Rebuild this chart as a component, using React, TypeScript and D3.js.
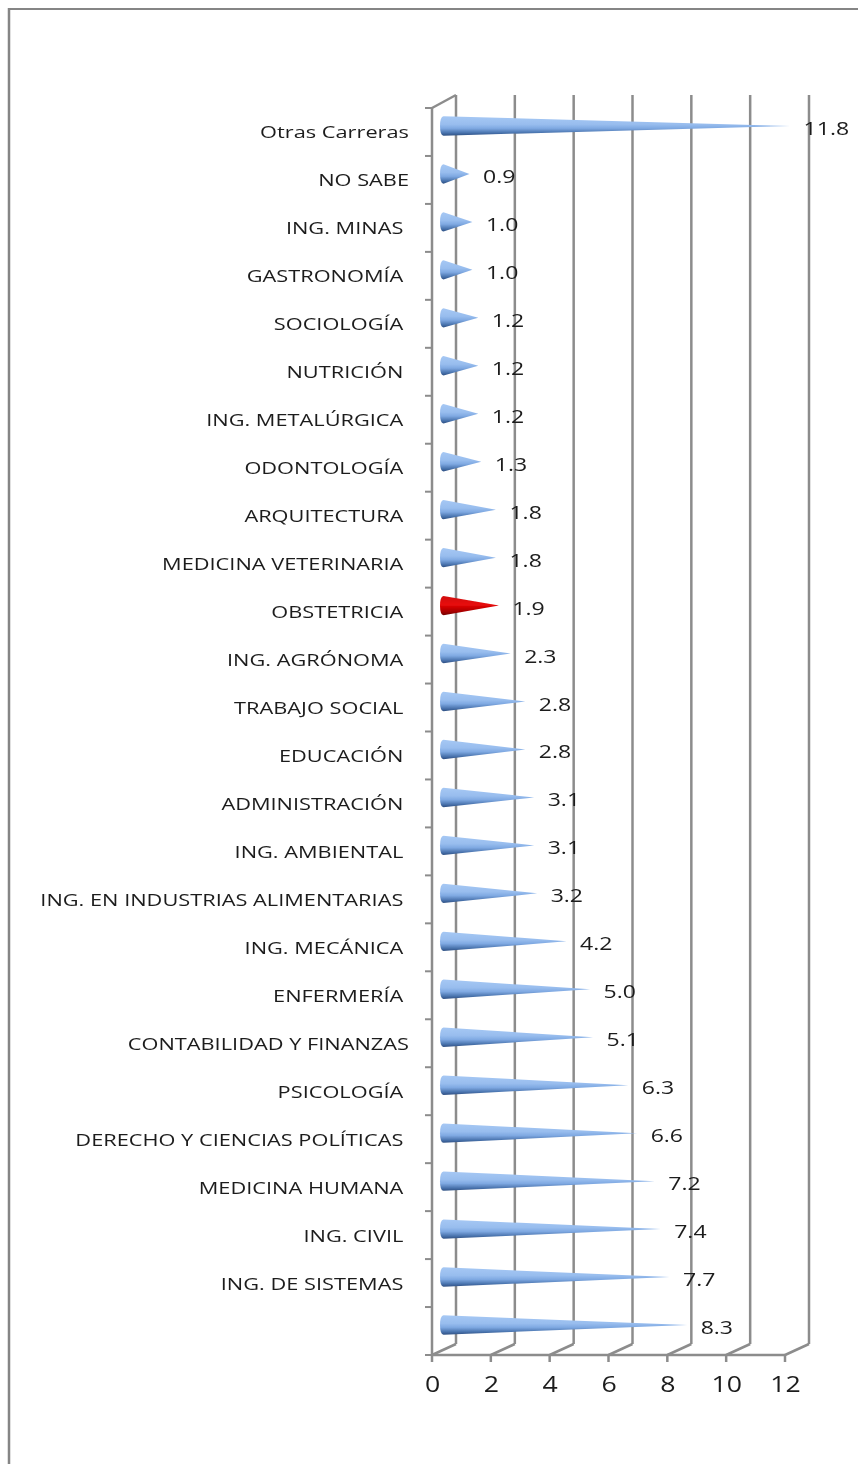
import React from "react";
import * as d3 from "d3";

const categories = ["Otras Carreras","NO SABE","ING. MINAS ","GASTRONOMÍA ","SOCIOLOGÍA ","NUTRICIÓN ","ING. METALÚRGICA ","ODONTOLOGÍA ","ARQUITECTURA ","MEDICINA VETERINARIA ","OBSTETRICIA ","ING. AGRÓNOMA ","TRABAJO SOCIAL ","EDUCACIÓN ","ADMINISTRACIÓN ","ING. AMBIENTAL ","ING. EN INDUSTRIAS ALIMENTARIAS ","ING. MECÁNICA ","ENFERMERÍA ","CONTABILIDAD Y FINANZAS","PSICOLOGÍA ","DERECHO Y CIENCIAS POLÍTICAS ","MEDICINA HUMANA ","ING. CIVIL ","ING. DE SISTEMAS ",""];
const values = [11.8,0.9,1.0,1.0,1.2,1.2,1.2,1.3,1.8,1.8,1.9,2.3,2.8,2.8,3.1,3.1,3.2,4.2,5.0,5.1,6.3,6.6,7.2,7.4,7.7,8.3];
const highlighted = ["OBSTETRICIA "];
const xTicks = [0,2,4,6,8,10,12];

const x = d3.scaleLinear().domain([0,12]).range([432,785]);
const y = d3.scaleBand<number>().domain(d3.range(categories.length)).range([108,1355]);
const depthX = 24, depthY = -11;
const grid = "#8c8c8c";
const font = "'Open Sans', sans-serif";

function cone(base: number, tip: number, cy: number, r: number) {
  const p = d3.path();
  p.moveTo(base + 1, cy - r);
  p.lineTo(tip, cy);
  p.lineTo(base + 1, cy + r);
  p.quadraticCurveTo(base - 2.5, cy + r - 0.5, base - 2.5, cy);
  p.quadraticCurveTo(base - 2.5, cy - r + 0.5, base + 1, cy - r);
  p.closePath();
  return p.toString();
}

export default function App() {
  const bottom = y.range()[1], top = y.range()[0];
  return (
    <svg width={858} height={1464} style={{position:"absolute",left:0,top:0,background:"#fff"}}>
      <defs>
        <linearGradient id="blue" x1="0" y1="0" x2="0" y2="1">
          <stop offset="0" stopColor="#a6c8f4"/>
          <stop offset="0.42" stopColor="#98bdee"/>
          <stop offset="0.62" stopColor="#7fa9e2"/>
          <stop offset="0.85" stopColor="#4a74ae"/>
          <stop offset="1" stopColor="#2e4f82"/>
        </linearGradient>
        <linearGradient id="red" x1="0" y1="0" x2="0" y2="1">
          <stop offset="0" stopColor="#d01010"/>
          <stop offset="0.45" stopColor="#e80808"/>
          <stop offset="0.8" stopColor="#a80000"/>
          <stop offset="1" stopColor="#700000"/>
        </linearGradient>
        <filter id="soft" x="-5%" y="-5%" width="110%" height="110%"><feGaussianBlur stdDeviation="0.45"/></filter>
      </defs>
      <g filter="url(#soft)">
        <line x1={9} x2={858} y1={9} y2={9} stroke="#858585" strokeWidth={2}/>
        <line x1={9} x2={9} y1={8} y2={1464} stroke="#858585" strokeWidth={2.5}/>

        {xTicks.map(t => (
          <g key={t} stroke={grid} fill="none" strokeWidth={2.5}>
            <line x1={x(t)+depthX} x2={x(t)+depthX} y1={95} y2={bottom+depthY}/>
            <line x1={x(t)} y1={bottom} x2={x(t)+depthX} y2={bottom+depthY}/>
            <line x1={x(t)} x2={x(t)} y1={bottom} y2={bottom+7}/>
          </g>
        ))}
        <line x1={x(0)} x2={x(12)} y1={bottom} y2={bottom} stroke={grid} strokeWidth={2.5}/>
        <line x1={x(0)} x2={x(0)} y1={top} y2={bottom} stroke={grid} strokeWidth={2.5}/>
        <line x1={x(0)} y1={top} x2={x(0)+depthX} y2={top-13} stroke={grid} strokeWidth={2.5}/>
        {d3.range(categories.length+1).map(i => {
          const ty = top + i*y.step();
          return <line key={i} x1={x(0)-7} x2={x(0)} y1={ty} y2={ty} stroke={grid} strokeWidth={2}/>;
        })}

        {categories.map((c,i) => {
          const cy = y(i)! + y.bandwidth()/2 - 6;
          const fill = highlighted.includes(c) ? "url(#red)" : "url(#blue)";
          return <path key={i} d={cone(x(0)+10.5, x(values[i])+11, cy, 9.7)} fill={fill}/>;
        })}

        {categories.map((c,i) => {
          const cy = y(i)! + y.bandwidth()/2;
          return <text key={i} transform={`translate(409,${cy+6.5}) scale(1.32,1)`} textAnchor="end" xmlSpace="preserve"
            style={{whiteSpace:"pre"}} fontFamily={font} fontSize={16.5} fill="#1c1c1c">{c}</text>;
        })}

        {values.map((v,i) => {
          const cy = y(i)! + y.bandwidth()/2 - 6;
          return <text key={i} transform={`translate(${x(v)+24.5},${cy+9}) scale(1.28,1)`} fontFamily={font} fontSize={18} fill="#1c1c1c">{v.toFixed(1)}</text>;
        })}

        {xTicks.map(t => (
          <text key={t} transform={`translate(${x(t)+0.5},${bottom+36.5}) scale(1.27,1)`} textAnchor="middle" fontFamily={font} fontSize={21} fill="#1c1c1c">{t}</text>
        ))}
      </g>
    </svg>
  );
}
